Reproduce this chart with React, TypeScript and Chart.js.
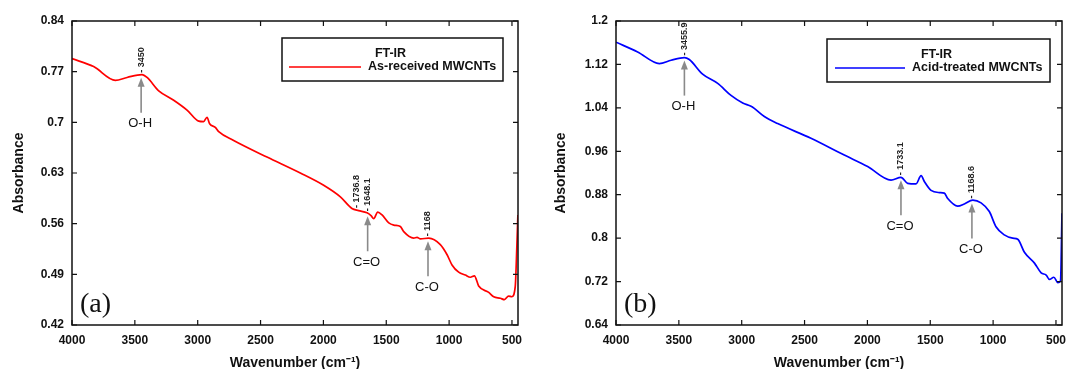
import React, { useEffect, useRef } from 'react';
import { Chart, registerables } from 'chart.js';

Chart.register(...registerables);

// ---- Panel (a): As-received MWCNTs ----
const wavenumbersA = [4000, 3828, 3655, 3562, 3443, 3403, 3310, 3191, 3085, 2992, 2953, 2926, 2905, 2860, 2833, 2714, 2449, 2184, 1998, 1865, 1773, 1720, 1653, 1621, 1600, 1568, 1533, 1480, 1440, 1388, 1361, 1282, 1255, 1228, 1162, 1070, 1016, 977, 924, 871, 831, 799, 765, 685, 645, 592, 560, 527, 501, 474, 461, 453];
const absorbanceA = [0.788, 0.777, 0.758, 0.762, 0.766, 0.762, 0.7435, 0.7306, 0.717, 0.7017, 0.701, 0.707, 0.698, 0.693, 0.687, 0.675, 0.652, 0.630, 0.613, 0.597, 0.581, 0.578, 0.575, 0.571, 0.567, 0.576, 0.572, 0.561, 0.558, 0.556, 0.549, 0.540, 0.541, 0.539, 0.540, 0.531, 0.517, 0.503, 0.493, 0.489, 0.486, 0.488, 0.474, 0.465, 0.459, 0.457, 0.455, 0.460, 0.459, 0.473, 0.529, 0.572];

// ---- Panel (b): Acid-treated MWCNTs ----
const wavenumbersB = [4000, 3828, 3655, 3562, 3456, 3417, 3311, 3191, 3085, 2992, 2926, 2900, 2820, 2714, 2449, 2184, 1998, 1812, 1733, 1680, 1613, 1573, 1546, 1494, 1428, 1388, 1361, 1282, 1229, 1162, 1096, 1030, 977, 911, 844, 804, 751, 671, 618, 578, 552, 517, 485, 464, 452];
const absorbanceB = [1.161, 1.143, 1.1216, 1.1277, 1.1326, 1.129, 1.102, 1.085, 1.063, 1.049, 1.043, 1.039, 1.024, 1.011, 0.984, 0.953, 0.932, 0.907, 0.912, 0.901, 0.900, 0.915, 0.904, 0.888, 0.884, 0.883, 0.873, 0.859, 0.863, 0.870, 0.865, 0.849, 0.821, 0.806, 0.800, 0.798, 0.774, 0.754, 0.736, 0.732, 0.724, 0.728, 0.718, 0.721, 0.846];

// ---- Axes ----
const xTickValues = [4000, 3500, 3000, 2500, 2000, 1500, 1000, 500];
const yTicksA = [0.42, 0.49, 0.56, 0.63, 0.7, 0.77, 0.84];
const yTicksB = [0.64, 0.72, 0.8, 0.88, 0.96, 1.04, 1.12, 1.2];

// ---- Annotations ----
const peakPositionsA = [3450, 1736.8, 1648.1, 1168];
const peakLabelsA = ['3450', '1736.8', '1648.1', '1168'];
const bandPositionsA = [3450, 1648.1, 1168];
const bandNamesA = ['O-H', 'C=O', 'C-O'];

const peakPositionsB = [3455.9, 1733.1, 1168.6];
const peakLabelsB = ['3455.9', '1733.1', '1168.6'];
const bandPositionsB = [3455.9, 1733.1, 1168.6];
const bandNamesB = ['O-H', 'C=O', 'C-O'];

const FONT = '"Liberation Sans", Arial, sans-serif';

function interp(ws: number[], vs: number[], w: number): number {
  for (let i = 0; i < ws.length - 1; i++) {
    const a = ws[i], b = ws[i + 1];
    if ((w <= a && w >= b) || (w >= a && w <= b)) {
      const t = (w - a) / (b - a || 1);
      return vs[i] + t * (vs[i + 1] - vs[i]);
    }
  }
  return vs[vs.length - 1];
}

type PanelCfg = {
  ws: number[];
  vs: number[];
  color: string;
  name: string;
  yTicks: number[];
  peakPos: number[];
  peakLabels: string[];
  bandPos: number[];
  bandNames: string[];
  letter: string;
  leftW: number;
  rightPad: number;
  legend: { x0: number; x1: number; y0: number; y1: number; lx0: number; lx1: number; tx: number };
};

function makeChart(canvas: HTMLCanvasElement, p: PanelCfg) {
  const framePlugin = {
    id: 'frame',
    afterDraw(chart: any) {
      const ctx = chart.ctx as CanvasRenderingContext2D;
      const { left, right, top, bottom } = chart.chartArea;
      const xs = chart.scales.x;
      const ys = chart.scales.y;
      ctx.save();
      // frame
      ctx.strokeStyle = '#111';
      ctx.lineWidth = 1.5;
      ctx.strokeRect(left, top, right - left, bottom - top);
      // inward ticks
      ctx.lineWidth = 1.2;
      const tl = 5;
      ctx.beginPath();
      xs.ticks.forEach((t: any) => {
        const px = xs.getPixelForValue(t.value);
        ctx.moveTo(px, bottom);
        ctx.lineTo(px, bottom - tl);
        ctx.moveTo(px, top);
        ctx.lineTo(px, top + tl);
      });
      ys.ticks.forEach((t: any) => {
        const py = ys.getPixelForValue(t.value);
        ctx.moveTo(left, py);
        ctx.lineTo(left + tl, py);
        ctx.moveTo(right, py);
        ctx.lineTo(right - tl, py);
      });
      ctx.stroke();

      // peak labels (rotated)
      ctx.fillStyle = '#222';
      ctx.font = `bold 9px ${FONT}`;
      p.peakPos.forEach((w, i) => {
        const px = xs.getPixelForValue(w);
        const py = ys.getPixelForValue(interp(p.ws, p.vs, w));
        ctx.save();
        ctx.translate(px, py - 2);
        ctx.rotate(-Math.PI / 2);
        ctx.textAlign = 'left';
        ctx.textBaseline = 'middle';
        ctx.fillText('- ' + p.peakLabels[i], 0, 0);
        ctx.restore();
      });

      // arrows + band names
      p.bandPos.forEach((w, i) => {
        const px = xs.getPixelForValue(w);
        const py = ys.getPixelForValue(interp(p.ws, p.vs, w)) + 3;
        ctx.strokeStyle = '#8a8a8a';
        ctx.fillStyle = '#8a8a8a';
        ctx.lineWidth = 1.6;
        ctx.beginPath();
        ctx.moveTo(px, py + 6);
        ctx.lineTo(px, py + 35);
        ctx.stroke();
        ctx.beginPath();
        ctx.moveTo(px, py);
        ctx.lineTo(px - 3.5, py + 9);
        ctx.lineTo(px + 3.5, py + 9);
        ctx.closePath();
        ctx.fill();
        ctx.fillStyle = '#111';
        ctx.font = `13px ${FONT}`;
        ctx.textAlign = 'center';
        ctx.textBaseline = 'middle';
        ctx.fillText(p.bandNames[i], px - 1, py + 46);
      });

      // legend box
      const L = p.legend;
      ctx.fillStyle = '#fff';
      ctx.fillRect(L.x0, L.y0, L.x1 - L.x0, L.y1 - L.y0);
      ctx.strokeStyle = '#111';
      ctx.lineWidth = 1.5;
      ctx.strokeRect(L.x0, L.y0, L.x1 - L.x0, L.y1 - L.y0);
      ctx.fillStyle = '#111';
      ctx.font = `bold 12.5px ${FONT}`;
      ctx.textAlign = 'center';
      ctx.textBaseline = 'middle';
      ctx.fillText('FT-IR', (L.x0 + L.x1) / 2 - 2, L.y0 + 16);
      ctx.strokeStyle = p.color;
      ctx.lineWidth = 1.5;
      ctx.beginPath();
      ctx.moveTo(L.lx0, L.y0 + 29);
      ctx.lineTo(L.lx1, L.y0 + 29);
      ctx.stroke();
      ctx.textAlign = 'left';
      ctx.fillText(p.name, L.tx, L.y0 + 29);

      // panel letter
      ctx.font = `28px "Liberation Serif", "Times New Roman", serif`;
      ctx.textAlign = 'left';
      ctx.textBaseline = 'middle';
      ctx.fillText(p.letter, left + 8, bottom - 20);
      ctx.restore();
    },
  };

  return new Chart(canvas, {
    type: 'line',
    data: {
      datasets: [
        {
          label: p.name,
          data: p.ws.map((w, i) => ({ x: w, y: p.vs[i] })),
          borderColor: p.color,
          backgroundColor: p.color,
          borderWidth: 1.7,
          pointRadius: 0,
          cubicInterpolationMode: 'monotone',
        },
      ],
    },
    options: {
      responsive: false,
      animation: false,
      layout: { padding: { left: 0, top: 21, right: p.rightPad, bottom: 0 } },
      plugins: { legend: { display: false }, tooltip: { enabled: false } },
      scales: {
        x: {
          type: 'linear',
          reverse: true,
          min: 452,
          max: 4000,
          grid: { display: false, drawTicks: false },
          border: { display: false },
          afterBuildTicks: (scale: any) => {
            scale.ticks = xTickValues.map((v) => ({ value: v }));
          },
          afterFit: (scale: any) => {
            scale.height = 44;
          },
          ticks: {
            padding: 8,
            maxRotation: 0,
            autoSkip: false,
            color: '#111',
            font: { family: FONT, size: 12, weight: 'bold' },
            callback: (v: any) => String(v),
          },
          title: {
            display: true,
            text: 'Wavenumber (cm\u207B\u00B9)',
            color: '#111',
            padding: { top: 0, bottom: -1 },
            font: { family: FONT, size: 14, weight: 'bold', lineHeight: 1 },
          },
        },
        y: {
          type: 'linear',
          min: p.yTicks[0],
          max: p.yTicks[p.yTicks.length - 1],
          grid: { display: false, drawTicks: false },
          border: { display: false },
          afterBuildTicks: (scale: any) => {
            scale.ticks = p.yTicks.map((v) => ({ value: v }));
          },
          afterFit: (scale: any) => {
            scale.width = p.leftW;
          },
          ticks: {
            padding: 8,
            autoSkip: false,
            color: '#111',
            font: { family: FONT, size: 12, weight: 'bold' },
            callback: (v: any) => String(+Number(v).toFixed(2)),
          },
          title: {
            display: true,
            text: 'Absorbance',
            color: '#111',
            padding: { top: 12, bottom: 0 },
            font: { family: FONT, size: 14, weight: 'bold', lineHeight: 1 },
          },
        },
      },
    },
    plugins: [framePlugin],
  } as any);
}

function Panel({ cfg }: { cfg: PanelCfg }) {
  const ref = useRef<HTMLCanvasElement | null>(null);
  useEffect(() => {
    if (!ref.current) return;
    const c = makeChart(ref.current, cfg);
    return () => c.destroy();
  }, [cfg]);
  return <canvas ref={ref} width={542} height={369} style={{ display: 'block', width: 542, height: 369 }} />;
}

const cfgA: PanelCfg = {
  ws: wavenumbersA,
  vs: absorbanceA,
  color: '#ff0000',
  name: 'As-received MWCNTs',
  yTicks: yTicksA,
  peakPos: peakPositionsA,
  peakLabels: peakLabelsA,
  bandPos: bandPositionsA,
  bandNames: bandNamesA,
  letter: '(a)',
  leftW: 72,
  rightPad: 24,
  legend: { x0: 282, x1: 503, y0: 38, y1: 81, lx0: 289, lx1: 361, tx: 368 },
};

const cfgB: PanelCfg = {
  ws: wavenumbersB,
  vs: absorbanceB,
  color: '#0000ff',
  name: 'Acid-treated MWCNTs',
  yTicks: yTicksB,
  peakPos: peakPositionsB,
  peakLabels: peakLabelsB,
  bandPos: bandPositionsB,
  bandNames: bandNamesB,
  letter: '(b)',
  leftW: 74,
  rightPad: 22,
  legend: { x0: 285, x1: 508, y0: 39, y1: 82, lx0: 293, lx1: 363, tx: 370 },
};

export default function App() {
  return (
    <div style={{ position: 'absolute', left: 0, top: 0, width: 1084, height: 369, display: 'flex', background: '#fff' }}>
      <Panel cfg={cfgA} />
      <Panel cfg={cfgB} />
    </div>
  );
}
